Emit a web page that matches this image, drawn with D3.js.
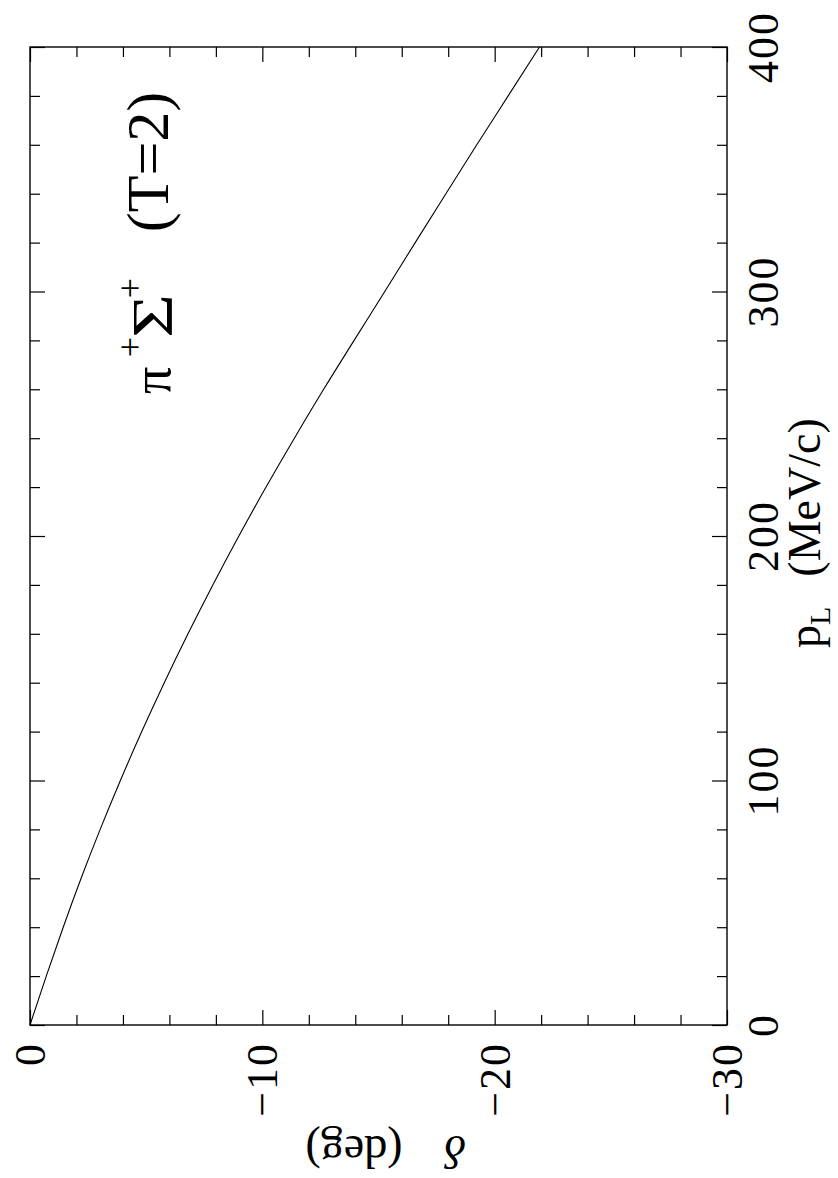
<!DOCTYPE html>
<html>
<head>
<meta charset="utf-8">
<script src="https://cdn.jsdelivr.net/npm/d3@7"></script>
<style>
  html, body { margin: 0; padding: 0; background: #fff; }
  svg { display: block; }
</style>
</head>
<body>
<script>
// ---- data ----
const pL = [0, 20, 40, 60, 80, 100, 120, 140, 160, 180, 200, 220, 240, 260, 280, 300, 320, 340, 360, 380, 400];
const delta = [0, -0.70, -1.43, -2.20, -3.02, -3.89, -4.81, -5.78, -6.80, -7.87, -8.99, -10.16, -11.38, -12.64, -13.95, -15.27, -16.58, -17.90, -19.23, -20.58, -21.93];

const deltaMajorTicks = [0, -10, -20, -30];
const deltaTickLabels = ["0", "\u221210", "\u221220", "\u221230"];
const deltaMinorTicks = [-2, -4, -6, -8, -12, -14, -16, -18, -22, -24, -26, -28];

const pMajorTicks = [0, 100, 200, 300, 400];
const pTickLabels = ["0", "100", "200", "300", "400"];
const pMinorTicks = [20, 40, 60, 80, 120, 140, 160, 180, 220, 240, 260, 280, 320, 340, 360, 380];

(function () {
const FONT = "'Liberation Serif', 'DejaVu Serif', serif";
const W = 838, H = 1178;
const mLeft = 30, mRight = 727, mTop = 47, mBottom = 1025;

const svg = d3.select("body").append("svg").attr("width", W).attr("height", H);

const x = d3.scaleLinear().domain([0, -30]).range([mLeft, mRight]);
const y = d3.scaleLinear().domain([0, 400]).range([mBottom, mTop]);

function tickAxis(axisFn, scale, ticks, size, transform) {
  const g = svg.append("g").attr("transform", transform)
    .call(axisFn(scale).tickValues(ticks).tickSize(size).tickFormat(""));
  g.select(".domain").remove();
  g.selectAll(".tick line").attr("stroke", "#000").attr("stroke-width", 1.2);
  return g;
}

tickAxis(d3.axisTop, x, deltaMinorTicks, 10, `translate(0,${mBottom})`);
tickAxis(d3.axisTop, x, deltaMajorTicks, 15, `translate(0,${mBottom})`);
tickAxis(d3.axisBottom, x, deltaMinorTicks, 10, `translate(0,${mTop})`);
tickAxis(d3.axisBottom, x, deltaMajorTicks, 15, `translate(0,${mTop})`);
tickAxis(d3.axisRight, y, pMinorTicks, 10, `translate(${mLeft},0)`);
tickAxis(d3.axisRight, y, pMajorTicks, 15, `translate(${mLeft},0)`);
tickAxis(d3.axisLeft, y, pMinorTicks, 10, `translate(${mRight},0)`);
tickAxis(d3.axisLeft, y, pMajorTicks, 15, `translate(${mRight},0)`);

svg.append("rect")
  .attr("x", mLeft).attr("y", mTop)
  .attr("width", mRight - mLeft).attr("height", mBottom - mTop)
  .attr("fill", "none").attr("stroke", "#000").attr("stroke-width", 1.4);

const line = d3.line()
  .x((d, i) => x(delta[i]))
  .y((d, i) => y(pL[i]))
  .curve(d3.curveMonotoneX);
svg.append("path")
  .datum(pL)
  .attr("d", line)
  .attr("fill", "none")
  .attr("stroke", "#000")
  .attr("stroke-width", 1.1);

function rotText(sx, sy, str, size, anchor) {
  return svg.append("text")
    .attr("transform", `translate(${sx},${sy}) rotate(-90)`)
    .attr("font-family", FONT)
    .attr("font-size", size)
    .attr("text-anchor", anchor)
    .attr("fill", "#000")
    .text(str);
}

deltaMajorTicks.forEach((v, i) => {
  rotText(x(v) + 15, 1042, deltaTickLabels[i], 44, "end")
    .attr("letter-spacing", 2);
});

pMajorTicks.forEach((v, i) => {
  rotText(778, y(v), pTickLabels[i], 44, "middle")
    .attr("letter-spacing", 2);
});

const pt = svg.append("text")
  .attr("transform", `translate(820,648) rotate(-90)`)
  .attr("font-family", FONT)
  .attr("font-size", 46)
  .attr("text-anchor", "start");
pt.append("tspan").text("p");
pt.append("tspan").attr("font-size", 30).attr("dy", 10).text("L");
pt.append("tspan").attr("dy", -10).attr("dx", 30).text("(MeV/c)");

const dt = svg.append("text")
  .attr("transform", `translate(466,1136) rotate(180)`)
  .attr("font-family", FONT)
  .attr("font-size", 46)
  .attr("text-anchor", "start");
dt.append("tspan").attr("font-style", "italic").text("\u03b4");
dt.append("tspan").attr("dx", 42).text("(deg)");

rotText(170, 394, "\u03c0", 54, "start");
rotText(142, 347, "+", 36, "middle");
svg.append("text")
  .attr("transform", `translate(172,316) rotate(-90) scale(1.35,1)`)
  .attr("font-family", FONT)
  .attr("font-size", 56)
  .attr("text-anchor", "middle")
  .text("\u03a3");
rotText(142, 288, "+", 36, "middle");
rotText(168, 162, "(T=2)", 60, "middle");
})();
</script>
</body>
</html>
